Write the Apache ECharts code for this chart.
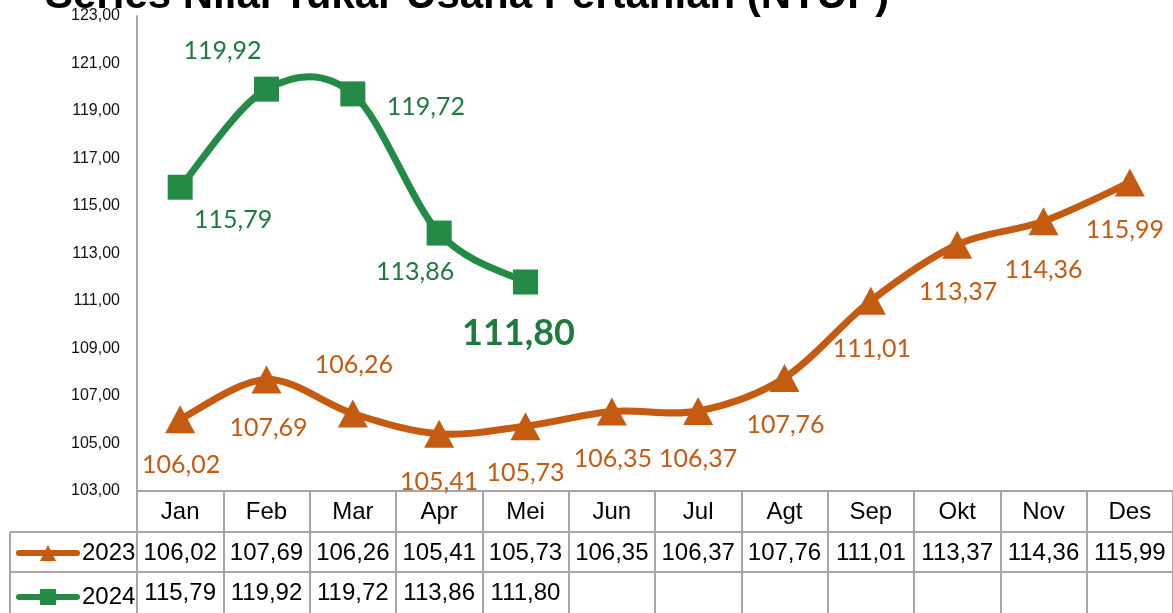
<!DOCTYPE html>
<html>
<head>
<meta charset="utf-8">
<script src="https://cdn.jsdelivr.net/npm/echarts@6/dist/echarts.min.js"></script>
<style>
  html, body { margin: 0; padding: 0; background: #fff; }
  #chart { width: 1173px; height: 613px; }
</style>
</head>
<body>
<div id="chart"></div>
<script>
// data
const months = ['Jan', 'Feb', 'Mar', 'Apr', 'Mei', 'Jun', 'Jul', 'Agt', 'Sep', 'Okt', 'Nov', 'Des'];
const ntup2023 = [106.02, 107.69, 106.26, 105.41, 105.73, 106.35, 106.37, 107.76, 111.01, 113.37, 114.36, 115.99];
const ntup2024 = [115.79, 119.92, 119.72, 113.86, 111.80];
const yMin = 103;
const yMax = 123;
const yStep = 2;

// look
const orange = '#C55A11';
const green = '#238B45';
const greenText = '#1E7B3E';
const gridGray = '#A6A6A6';
const tableFont = "'Liberation Sans', Arial, sans-serif";
const labelFont = "Lato, 'Open Sans', sans-serif";

// label placement around each point (dx, dy from point centre)
const off2023 = [[1, 46], [2, 48], [1, -49], [0, 48], [0, 47], [1, 47], [0, 48], [1, 47], [1, 48], [1, 47], [0, 49], [-5, 47]];
const off2024 = [[53, 33], [-44, -38], [73, 13], [-24, 39], [-7, 51]];

const fmt = v => (v == null ? '' : v.toFixed(2).replace('.', ','));

const chart = echarts.init(document.getElementById('chart'));

function rowAxis(offset, values) {
    return {
        type: 'category',
        data: months,
        position: 'bottom',
        offset: offset,
        boundaryGap: true,
        axisLine: { show: true, lineStyle: { color: gridGray, width: 2 } },
        axisTick: { show: true, interval: 0, length: 41, lineStyle: { color: gridGray, width: 2 } },
        axisLabel: {
            interval: 0,
            margin: 9,
            color: '#000',
            fontSize: 24,
            fontFamily: tableFont,
            formatter: (v, i) => (values ? fmt(values[i]) : v)
        }
    };
}

// excel-like smoothed curve (catmull-rom), one bezier piece per point
function curveSeries(name, values, color) {
    return {
        name: name,
        type: 'custom',
        data: values.map((v, i) => [i, v]),
        encode: { x: 0, y: 1 },
        z: 2,
        silent: true,
        renderItem: (params, api) => {
            const i = params.dataIndex;
            const n = values.length;
            if (i >= n - 1) return null;
            const p = k => {
                const j = Math.max(0, Math.min(n - 1, k));
                return api.coord([j, values[j]]);
            };
            const p0 = p(i - 1), p1 = p(i), p2 = p(i + 1), p3 = p(i + 2);
            return {
                type: 'bezierCurve',
                shape: {
                    x1: p1[0], y1: p1[1],
                    cpx1: p1[0] + (p2[0] - p0[0]) / 6,
                    cpy1: p1[1] + (p2[1] - p0[1]) / 6,
                    cpx2: p2[0] - (p3[0] - p1[0]) / 6,
                    cpy2: p2[1] - (p3[1] - p1[1]) / 6,
                    x2: p2[0], y2: p2[1]
                },
                style: { stroke: color, lineWidth: 7, fill: 'none', lineCap: 'round' }
            };
        }
    };
}

chart.setOption({
    animation: false,
    graphic: [
        {
            type: 'text',
            left: 45,
            top: -25,
            style: {
                text: 'Series Nilai Tukar Usaha Pertanian (NTUP)',
                font: "bold 42px 'Liberation Sans', Arial, sans-serif",
                fill: '#000'
            }
        },
        { type: 'line', shape: { x1: 10, y1: 532, x2: 137, y2: 532 }, style: { stroke: gridGray, lineWidth: 2 } },
        { type: 'line', shape: { x1: 10, y1: 572, x2: 137, y2: 572 }, style: { stroke: gridGray, lineWidth: 2 } },
        { type: 'line', shape: { x1: 10, y1: 532, x2: 10, y2: 613 }, style: { stroke: gridGray, lineWidth: 2 } }
    ],
    legend: {
        data: ['2023', '2024'],
        orient: 'vertical',
        left: 16,
        top: 539,
        padding: 0,
        itemWidth: 58,
        itemHeight: 20,
        itemGap: 16,
        lineStyle: { width: 6, cap: 'round', opacity: 1 },
        textStyle: { fontSize: 24, fontFamily: tableFont, color: '#000', lineHeight: 28 }
    },
    grid: { left: 137, right: -6, top: 16, bottom: 122, containLabel: false },
    xAxis: [
        rowAxis(0, null),
        rowAxis(41, ntup2023),
        rowAxis(81, ntup2024)
    ],
    yAxis: {
        type: 'value',
        min: yMin,
        max: yMax,
        interval: yStep,
        axisLine: { show: true, lineStyle: { color: gridGray, width: 2 } },
        axisTick: { show: false },
        splitLine: { show: false },
        axisLabel: {
            margin: 17,
            color: '#111',
            fontSize: 16,
            fontFamily: tableFont,
            formatter: v => fmt(v)
        }
    },
    series: [
        curveSeries('curve2023', ntup2023, orange),
        curveSeries('curve2024', ntup2024, green),
        {
            name: '2023',
            type: 'line',
            data: ntup2023.map((v, i) => ({ value: v, label: { offset: off2023[i] } })),
            symbol: 'triangle',
            symbolSize: [30, 28],
            lineStyle: { color: orange, width: 7, opacity: 0 },
            itemStyle: { color: orange },
            label: {
                show: true,
                position: 'inside',
                color: orange,
                fontSize: 25,
                fontFamily: labelFont,
                formatter: p => fmt(p.value)
            },
            z: 3
        },
        {
            name: '2024',
            type: 'line',
            data: ntup2024.map((v, i) => ({
                value: v,
                label: i === ntup2024.length - 1
                    ? { offset: off2024[i], fontSize: 36, fontWeight: 'bold' }
                    : { offset: off2024[i] }
            })),
            symbol: 'rect',
            symbolSize: 25,
            lineStyle: { color: green, width: 7, opacity: 0 },
            itemStyle: { color: green },
            label: {
                show: true,
                position: 'inside',
                color: greenText,
                fontSize: 25,
                fontFamily: labelFont,
                formatter: p => fmt(p.value)
            },
            z: 4
        }
    ]
});
</script>
</body>
</html>
